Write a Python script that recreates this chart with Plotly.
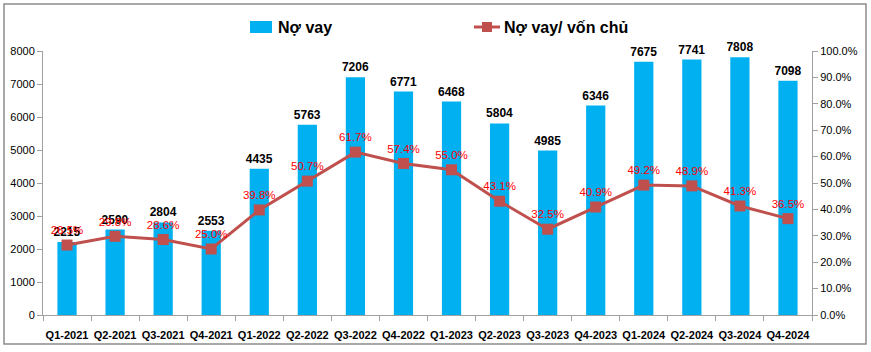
import plotly.graph_objects as go

quarters = ["Q1-2021", "Q2-2021", "Q3-2021", "Q4-2021", "Q1-2022", "Q2-2022", "Q3-2022", "Q4-2022",
            "Q1-2023", "Q2-2023", "Q3-2023", "Q4-2023", "Q1-2024", "Q2-2024", "Q3-2024", "Q4-2024"]
debt = [2215, 2590, 2804, 2553, 4435, 5763, 7206, 6771, 6468, 5804, 4985, 6346, 7675, 7741, 7808, 7098]
ratio = [26.5, 29.8, 28.6, 25.0, 39.8, 50.7, 61.7, 57.4, 55.0, 43.1, 32.5, 40.9, 49.2, 48.9, 41.3, 36.5]
series_names = ["Nợ vay", "Nợ vay/ vốn chủ"]

FONT = "Liberation Sans"
BAR_COLOR = "#00B0F0"
LINE_COLOR = "#C0504D"
AXIS_COLOR = "#A0A0A0"

L, R, T, B = 43, 59, 51, 37
W, H = 871, 352
PW, PH = W - L - R, H - T - B


def px(x):
    return (x - L) / PW


def py(y):
    return (H - B - y) / PH


fig = go.Figure()
fig.add_trace(go.Bar(
    x=quarters, y=debt, name=series_names[0], showlegend=False,
    marker=dict(color=BAR_COLOR, line=dict(width=0)),
    text=[str(v) for v in debt], textposition="outside", cliponaxis=False,
    constraintext="none",
    textfont=dict(family=FONT, size=12, color="#000000", weight="bold"),
    width=0.4,
))
fig.add_trace(go.Scatter(
    x=quarters, y=ratio, name=series_names[1], xaxis="x2", yaxis="y2", showlegend=False,
    mode="lines+markers+text",
    line=dict(color=LINE_COLOR, width=3),
    marker=dict(symbol="square", size=11, color=LINE_COLOR),
    text=[f"{v:.1f}%" for v in ratio], textposition="top center",
    textfont=dict(family=FONT, size=11.5, color="#FF0000"),
    cliponaxis=False,
))

n = len(quarters)
fig.update_layout(
    width=W, height=H,
    margin=dict(l=L, r=R, t=T, b=B, autoexpand=False),
    paper_bgcolor="white", plot_bgcolor="white",
    font=dict(family=FONT, size=11, color="#000000"),
    showlegend=False,
    xaxis=dict(type="category", categoryarray=quarters, range=[-0.5, n - 0.5],
               showline=True, linecolor=AXIS_COLOR, linewidth=1, ticks="outside",
               ticklen=10, tickcolor="rgba(0,0,0,0)", tickangle=0,
               tickfont=dict(family=FONT, size=11, color="#000000", weight="bold"),
               showgrid=False, automargin=False),
    xaxis2=dict(type="category", categoryarray=quarters, range=[-0.5, n - 0.5],
                overlaying="x", side="bottom", anchor="y", showline=False,
                ticks="outside", tickson="boundaries", ticklen=5, tickcolor=AXIS_COLOR,
                showticklabels=False, showgrid=False, automargin=False),
    yaxis=dict(range=[0, 8000], dtick=1000, showline=True, linecolor=AXIS_COLOR,
               ticks="outside", ticklen=5, tickcolor=AXIS_COLOR, showgrid=False,
               zeroline=False, tickfont=dict(family=FONT, size=11), automargin=False),
    yaxis2=dict(range=[0, 100], dtick=10, overlaying="y", side="right", anchor="x",
                showline=True, linecolor=AXIS_COLOR, ticks="outside", ticklen=5,
                tickcolor=AXIS_COLOR, showgrid=False, zeroline=False,
                ticksuffix="%", tickformat=".1f", tickfont=dict(family=FONT, size=11),
                automargin=False),
)

# outer border
fig.add_shape(type="rect", xref="paper", yref="paper",
              x0=px(4), x1=px(866), y0=py(344), y1=py(4),
              line=dict(color="#8C8C8C", width=1.5), layer="below")

# manual legend
fig.add_shape(type="rect", xref="paper", yref="paper",
              x0=px(250), x1=px(272), y0=py(33), y1=py(21),
              fillcolor=BAR_COLOR, line=dict(width=0))
fig.add_annotation(xref="paper", yref="paper", x=px(276), y=py(27), text=series_names[0],
                   showarrow=False, xanchor="left", yanchor="middle",
                   font=dict(family=FONT, size=16, color="#000000", weight="bold"))
fig.add_shape(type="line", xref="paper", yref="paper",
              x0=px(474), x1=px(500), y0=py(27), y1=py(27),
              line=dict(color=LINE_COLOR, width=3))
fig.add_shape(type="rect", xref="paper", yref="paper",
              x0=px(482), x1=px(492), y0=py(32), y1=py(22),
              fillcolor=LINE_COLOR, line=dict(width=0))
fig.add_annotation(xref="paper", yref="paper", x=px(502), y=py(27), text=series_names[1],
                   showarrow=False, xanchor="left", yanchor="middle",
                   font=dict(family=FONT, size=16, color="#000000", weight="bold"))

fig.write_html("out.html")
